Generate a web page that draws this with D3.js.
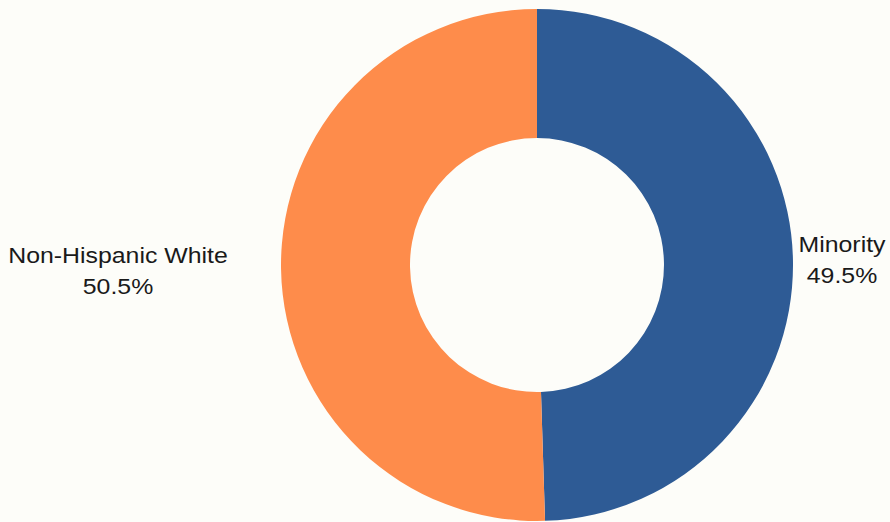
<!DOCTYPE html>
<html>
<head>
<meta charset="utf-8">
<script src="https://cdn.jsdelivr.net/npm/d3@7/dist/d3.min.js"></script>
<style>
  html, body { margin: 0; padding: 0; background: #fdfdf9; }
  svg { display: block; }
  text { font-family: "Liberation Sans", Arial, sans-serif; fill: #1a1a1a; }
</style>
</head>
<body>
<svg id="chart" width="890" height="522"></svg>
<script>
// Population share by group
const categories = ["Minority", "Non-Hispanic White"];
const values = [49.5, 50.5];
const colors = ["#2e5b95", "#fe8c4b"];

const width = 890, height = 522;
const cx = 537, cy = 265;
const outerR = 256, innerR = 127;

const svg = d3.select("#chart");
svg.append("rect").attr("width", width).attr("height", height).attr("fill", "#fdfdf9");

const pie = d3.pie().sort(null).value(d => d.value);
const arcs = pie(categories.map((c, i) => ({ name: c, value: values[i], color: colors[i] })));
const arc = d3.arc().innerRadius(innerR).outerRadius(outerR);

const g = svg.append("g").attr("transform", `translate(${cx},${cy})`);
g.selectAll("path")
  .data(arcs)
  .join("path")
  .attr("d", arc)
  .attr("fill", d => d.data.color);

// Labels sit just outside the ring, at its mid-height
const labelPos = {
  "Minority": { x: 842, y: 252 },
  "Non-Hispanic White": { x: 118, y: 263 }
};
const labels = svg.selectAll("g.label")
  .data(arcs)
  .join("g")
  .attr("class", "label")
  .attr("transform", d => `translate(${labelPos[d.data.name].x},${labelPos[d.data.name].y}) scale(1.13,1)`);
labels.append("text")
  .attr("text-anchor", "middle")
  .attr("font-size", 22)
  .text(d => d.data.name);
labels.append("text")
  .attr("text-anchor", "middle")
  .attr("font-size", 22)
  .attr("y", 31)
  .text(d => d3.format(".1f")(d.data.value) + "%");
</script>
</body>
</html>
